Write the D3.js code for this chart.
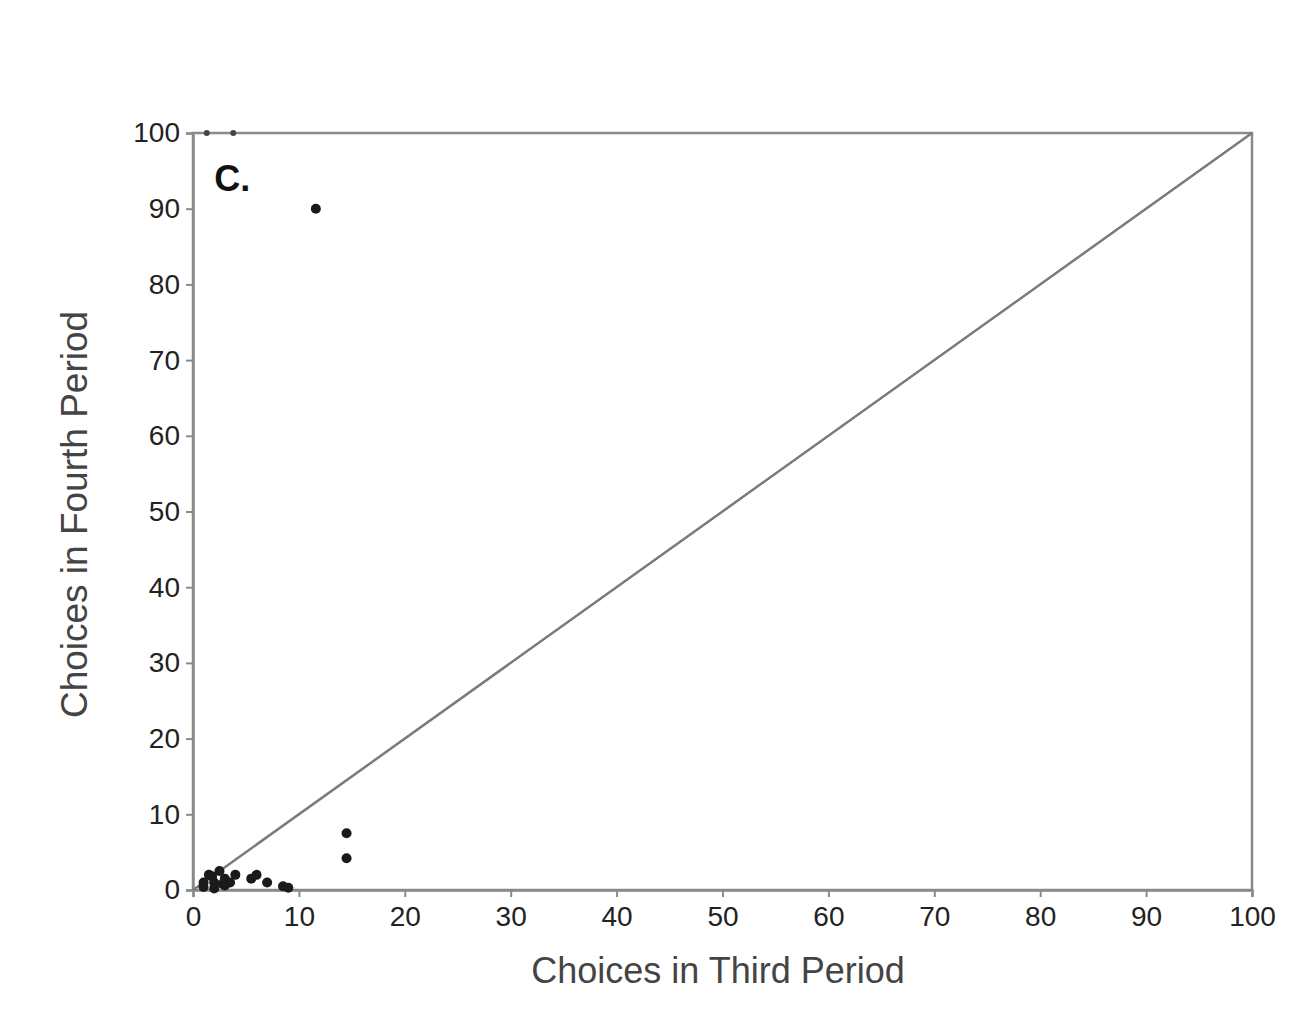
<!DOCTYPE html>
<html><head><meta charset="utf-8">
<script src="https://cdn.jsdelivr.net/npm/d3@7"></script>
<style>body{margin:0;background:#fff}svg{display:block}</style>
</head><body>
<script>
const xTicks = [0,10,20,30,40,50,60,70,80,90,100];
const yTicks = [0,10,20,30,40,50,60,70,80,90,100];
const thirdPeriod  = [11.6, 14.5, 14.5, 1.3, 3.8, 1, 1.5, 2, 2.5, 3, 3.5, 4, 1, 2, 3, 5.5, 6, 7, 8.5, 9, 1.8, 2.8];
const fourthPeriod = [90,   7.5,  4.2, 100, 100, 1, 2,   1, 2.5, 1.5, 1, 2,  0.4, 0.2, 0.6, 1.5, 2, 1, 0.5, 0.3, 1.8, 0.8];
const diagonal = [0, 100];
const panelLabel = "C.";
const xTitle = "Choices in Third Period";
const yTitle = "Choices in Fourth Period";

const W = 1301, H = 1018;
const m = {l:193, r:49, t:133, b:128};
const svg = d3.select("body").append("svg").attr("width", W).attr("height", H);
const x = d3.scaleLinear().domain([0,100]).range([m.l, W - m.r]);
const y = d3.scaleLinear().domain([0,100]).range([H - m.b, m.t]);
const font = "Liberation Sans, Arial, sans-serif";

svg.append("rect").attr("x", x(0)).attr("y", y(100)).attr("width", x(100)-x(0)).attr("height", y(0)-y(100))
  .attr("fill","none").attr("stroke","#8a8a8a").attr("stroke-width",2.5);

const xa = svg.append("g").attr("transform",`translate(0,${y(0)})`)
  .call(d3.axisBottom(x).tickValues(xTicks).tickSize(7).tickPadding(9).tickFormat(d3.format("d")));
const ya = svg.append("g").attr("transform",`translate(${x(0)},0)`)
  .call(d3.axisLeft(y).tickValues(yTicks).tickSize(7).tickPadding(6).tickFormat(d3.format("d")));
[xa, ya].forEach(a => {
  a.select(".domain").attr("stroke","#8a8a8a").attr("stroke-width",2.5);
  a.selectAll(".tick line").attr("stroke","#8a8a8a").attr("stroke-width",2);
  a.selectAll("text").attr("font-family",font).attr("font-size",28).attr("fill","#222");
});

svg.append("line").attr("x1", x(diagonal[0])).attr("y1", y(diagonal[0]))
  .attr("x2", x(diagonal[1])).attr("y2", y(diagonal[1]))
  .attr("stroke","#7a7a7a").attr("stroke-width",2.5);

svg.append("g").selectAll("circle").data(thirdPeriod.map((d,i)=>[d, fourthPeriod[i]]))
  .join("circle").attr("cx", d=>x(d[0])).attr("cy", d=>y(d[1]))
  .attr("r", d => d[1] >= 100 ? 3 : 5)
  .attr("fill", d => d[1] >= 100 ? "#444" : "#1a1a1a");

svg.append("text").attr("x", x(2)).attr("y", y(100)+58).text(panelLabel)
  .attr("font-family",font).attr("font-size",36).attr("font-weight","bold").attr("fill","#111");

svg.append("text").attr("x", 718).attr("y", 983).attr("text-anchor","middle")
  .text(xTitle).attr("font-family",font).attr("font-size",36).attr("fill","#444");
svg.append("text").attr("transform",`translate(87,${(y(0)+y(100))/2 + 3}) rotate(-90)`).attr("text-anchor","middle")
  .text(yTitle).attr("font-family",font).attr("font-size",37).attr("fill","#444");
</script>
</body></html>
